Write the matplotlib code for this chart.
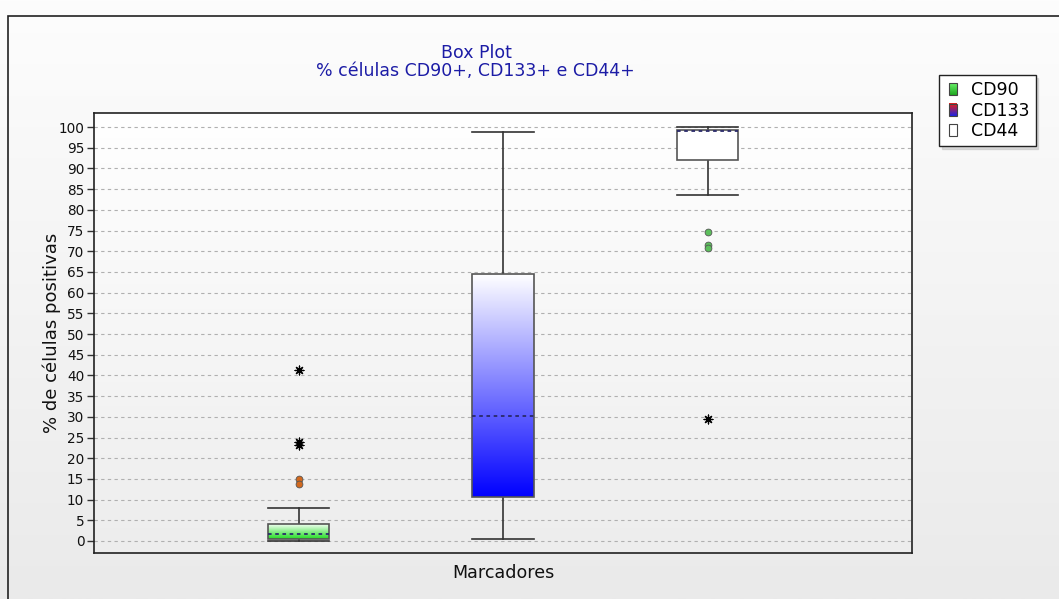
import numpy as np
import matplotlib
matplotlib.use("Agg")
import matplotlib.pyplot as plt
from matplotlib.patches import Rectangle
from matplotlib.legend_handler import HandlerBase
from matplotlib.colors import LinearSegmentedColormap

# ---- data -------------------------------------------------------------
markers = ["CD90", "CD133", "CD44"]
whisker_low = [0.0, 0.6, 83.5]
q1 = [0.6, 10.7, 92.0]
median = [1.7, 30.3, 99.1]
q3 = [4.0, 64.4, 99.4]
whisker_high = [7.9, 98.9, 99.9]
# mild outliers (circles) and extreme outliers (stars)
mild_outliers = [[14.9, 13.8], [], [74.6, 71.5, 70.7]]
extreme_outliers = [[41.3, 23.9, 23.2], [], [29.4]]
yticks = list(range(0, 101, 5))

title = "Box Plot"
subtitle = "% células CD90+, CD133+ e CD44+"
xlabel = "Marcadores"
ylabel = "% de células positivas"

# ---- style ------------------------------------------------------------
plt.rcParams["font.family"] = ["DejaVu Sans"]
box_cmaps = [
    LinearSegmentedColormap.from_list("g", ["#22dd22", "#f2fff2"]),
    LinearSegmentedColormap.from_list("b", ["#0000ff", "#ffffff"]),
    LinearSegmentedColormap.from_list("w", ["#ffffff", "#ffffff"]),
]
mild_colors = ["#d2691e", None, "#5cbf5c"]
title_color = "#1c1ca6"

W, H = 1059, 599
fig = plt.figure(figsize=(W / 100, H / 100), dpi=100)

# figure background gradient (value 1 at the top row)
grad = np.linspace(1, 0, 256).reshape(-1, 1)
bg = fig.add_axes([0, 0, 1, 1], zorder=-10)
bg.imshow(grad, aspect="auto", extent=[0, 1, 0, 1],
          cmap=LinearSegmentedColormap.from_list("bg", ["#eaeaea", "#fdfdfd"]))
bg.add_patch(Rectangle((8 / W, -0.1), 2, (H - 16) / H + 0.1, fill=False,
                       edgecolor="#222222", lw=1.2, transform=bg.transAxes))
bg.set_xlim(0, 1)
bg.set_ylim(0, 1)
bg.axis("off")

ax = fig.add_axes([94 / W, 1 - 553 / H, (912 - 94) / W, (553 - 113) / H])
ax.set_xlim(0, 4)
ax.set_ylim(-2.9, 103.4)

# plot area gradient
ax.imshow(grad, aspect="auto", extent=[0, 4, -2.9, 103.4], zorder=0,
          cmap=LinearSegmentedColormap.from_list("pa", ["#ededed", "#ffffff"]))

positions = [1, 2, 3]
width = 0.3
stats = []
for i, name in enumerate(markers):
    stats.append(dict(label=name, whislo=whisker_low[i], q1=q1[i], med=median[i],
                      q3=q3[i], whishi=whisker_high[i], fliers=[]))

bp = ax.bxp(stats, positions=positions, widths=width, patch_artist=True,
            showfliers=False, manage_ticks=False,
            boxprops=dict(edgecolor="#555555", linewidth=1.2, facecolor="none"),
            whiskerprops=dict(color="#333333", linewidth=1.2),
            capprops=dict(color="#333333", linewidth=1.2),
            medianprops=dict(color="#2a2a6a", linewidth=1.3, linestyle=(0, (2, 2))),
            capwidths=width)
for c in bp["boxes"]:
    c.set_zorder(4)
for m in bp["medians"]:
    m.set_zorder(6)

# gradient fills clipped to each box: white at q3, full colour at q1
for i, box in enumerate(bp["boxes"]):
    im = ax.imshow(grad, aspect="auto", cmap=box_cmaps[i], zorder=3,
                   extent=[positions[i] - width / 2, positions[i] + width / 2, q1[i], q3[i]])
    im.set_clip_path(box)

for i in range(3):
    if mild_outliers[i]:
        ax.scatter([positions[i]] * len(mild_outliers[i]), mild_outliers[i], s=24,
                   facecolor=mild_colors[i], edgecolor="#555555", linewidth=0.6, zorder=5)
    if extreme_outliers[i]:
        ax.scatter([positions[i]] * len(extreme_outliers[i]), extreme_outliers[i], s=40,
                   marker=(8, 2, 0), color="black", linewidth=0.9, zorder=5)

ax.set_xlim(0, 4)
ax.set_ylim(-2.9, 103.4)
ax.set_yticks(yticks)
ax.set_xticks([])
ax.tick_params(axis="y", labelsize=9.8, length=5, width=1, color="#333333",
               labelcolor="#111111", pad=2)
ax.yaxis.grid(True, color="#b0b0b0", linestyle=(0, (3, 3)), linewidth=0.8)
ax.set_axisbelow(True)
for s in ax.spines.values():
    s.set_color("#222222")
    s.set_linewidth(1.2)

ax.set_ylabel(ylabel, fontsize=13, color="#111111", va="center")
ax.yaxis.set_label_coords((52 - 94) / 818, 0.5)
ax.set_xlabel(xlabel, fontsize=12.6, color="#111111", va="center")
ax.xaxis.set_label_coords(0.5, (553 - 573) / 440)

fig.text(476 / W, 1 - 53 / H, title, ha="center", va="center",
         fontsize=12.5, color=title_color)
fig.text(475 / W, 1 - 71 / H, subtitle, ha="center", va="center",
         fontsize=12.5, color=title_color)


# legend with small gradient swatches
class GradientHandler(HandlerBase):
    def __init__(self, colors):
        super().__init__()
        self.colors = colors

    def create_artists(self, legend, orig_handle, xdescent, ydescent, width, height,
                       fontsize, trans):
        cmap = LinearSegmentedColormap.from_list("h", self.colors)
        w = height * 0.6
        x0 = -xdescent + (width - w) / 2
        n = 12
        arts = []
        for k in range(n):
            arts.append(Rectangle((x0, -ydescent + height * k / n), w, height / n + 0.2,
                                  facecolor=cmap(k / (n - 1)), edgecolor="none",
                                  transform=trans))
        arts.append(Rectangle((x0, -ydescent), w, height, facecolor="none",
                              edgecolor="#444444", lw=0.8, transform=trans))
        return arts


h1, h2, h3 = object(), object(), object()
leg = fig.legend([h1, h2, h3], markers,
                 handler_map={h1: GradientHandler(["#22aa22", "#66ee66"]),
                              h2: GradientHandler(["#2222dd", "#dd2222"]),
                              h3: GradientHandler(["#ffffff", "#ffffff"])},
                 loc="upper left", bbox_to_anchor=(939 / W, 1 - 75 / H),
                 fontsize=12.5, frameon=True, fancybox=False,
                 shadow={"ox": 2, "oy": -2, "color": "#bbbbbb"},
                 handlelength=0.9, handletextpad=0.6, borderpad=0.35,
                 labelspacing=0.15, borderaxespad=0)
leg.get_frame().set_edgecolor("#222222")
leg.get_frame().set_linewidth(1.0)

fig.savefig("out.png", dpi=100)
